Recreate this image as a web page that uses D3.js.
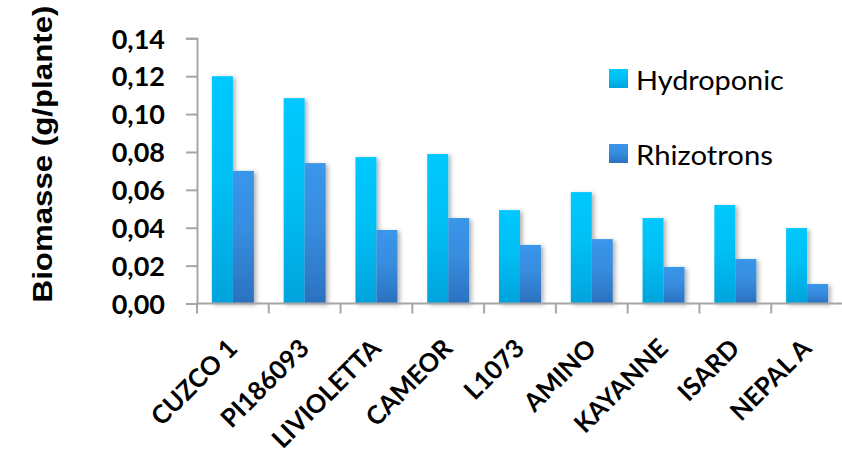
<!DOCTYPE html>
<html>
<head>
<meta charset="utf-8">
<script src="https://cdn.jsdelivr.net/npm/d3@7"></script>
<style>
  html, body { margin: 0; padding: 0; background: #fff; }
  svg { display: block; }
</style>
</head>
<body>
<svg id="chart" width="842" height="454"></svg>
<script>
const categories = ["CUZCO 1", "PI186093", "LIVIOLETTA", "CAMEOR", "L1073", "AMINO", "KAYANNE", "ISARD", "NEPAL A"];
const seriesNames = ["Hydroponic", "Rhizotrons"];
const hydroponic = [0.120, 0.1084, 0.0773, 0.0789, 0.0493, 0.0588, 0.0451, 0.0520, 0.0398];
const rhizotrons = [0.070, 0.0741, 0.0388, 0.0451, 0.0309, 0.0340, 0.0193, 0.0235, 0.0103];
const yTicks = [0, 0.02, 0.04, 0.06, 0.08, 0.10, 0.12, 0.14];
const yTitle = "Biomasse (g/plante)";

const svg = d3.select("#chart");
const defs = svg.append("defs");

const gradH = defs.append("linearGradient").attr("id", "gH").attr("x1", 0).attr("y1", 0).attr("x2", 0).attr("y2", 1);
gradH.append("stop").attr("offset", "0%").attr("stop-color", "#00c8ff");
gradH.append("stop").attr("offset", "45%").attr("stop-color", "#00c0f4");
gradH.append("stop").attr("offset", "100%").attr("stop-color", "#00a3dc");
const gradR = defs.append("linearGradient").attr("id", "gR").attr("x1", 0).attr("y1", 0).attr("x2", 0).attr("y2", 1);
gradR.append("stop").attr("offset", "0%").attr("stop-color", "#3a96ea");
gradR.append("stop").attr("offset", "45%").attr("stop-color", "#378ddf");
gradR.append("stop").attr("offset", "100%").attr("stop-color", "#2b71c0");

const shadow = defs.append("filter").attr("id", "sh").attr("x", "-30%").attr("y", "-10%").attr("width", "170%").attr("height", "130%");
shadow.append("feDropShadow").attr("dx", 2.5).attr("dy", 1.5).attr("stdDeviation", 2.2)
  .attr("flood-color", "#000").attr("flood-opacity", 0.3);

const x0 = 197, x1 = 843, yTop = 38.3, yBot = 303.5;

const x = d3.scaleBand().domain(categories).range([x0, x1]).paddingInner(0.415).paddingOuter(0.2075);
const xs = d3.scaleBand().domain(seriesNames).range([0, x.bandwidth()]).padding(0);
const y = d3.scaleLinear().domain([0, 0.14]).range([yBot, yTop]);

const fillFor = { "Hydroponic": "url(#gH)", "Rhizotrons": "url(#gR)" };
const seriesData = { "Hydroponic": hydroponic, "Rhizotrons": rhizotrons };

// bars
const gBars = svg.append("g").attr("filter", "url(#sh)");
categories.forEach((c, i) => {
  seriesNames.forEach(s => {
    const v = seriesData[s][i];
    gBars.append("rect")
      .attr("x", x(c) + xs(s))
      .attr("y", y(v))
      .attr("width", xs.bandwidth())
      .attr("height", y(0) - y(v))
      .attr("fill", fillFor[s]);
  });
});

// y axis
const yAxis = d3.axisLeft(y).tickValues(yTicks).tickSize(11).tickPadding(21)
  .tickFormat(d => d3.format(".2f")(d).replace(".", ","));
const gy = svg.append("g").attr("transform", `translate(${x0},0)`).call(yAxis);
gy.select(".domain").attr("stroke", "#a6a6a6").attr("stroke-width", 2);
gy.selectAll(".tick line").attr("stroke", "#a6a6a6").attr("stroke-width", 2);
gy.selectAll(".tick text")
  .attr("font-family", "Lato, 'Open Sans', sans-serif")
  .attr("font-weight", "bold").attr("font-size", "27px").attr("fill", "#000")
  .attr("dy", "0.36em");

// x axis (ticks between categories)
const step = x.step();
const boundaries = d3.range(categories.length + 1).map(i => x0 + i * step);
const gx = svg.append("g");
gx.append("line").attr("x1", x0 - 1).attr("x2", 842).attr("y1", yBot).attr("y2", yBot)
  .attr("stroke", "#a6a6a6").attr("stroke-width", 2);
gx.selectAll("line.tk").data(boundaries).enter().append("line").attr("class", "tk")
  .attr("x1", d => d).attr("x2", d => d).attr("y1", yBot).attr("y2", yBot + 10)
  .attr("stroke", "#a6a6a6").attr("stroke-width", 2);

// category labels
svg.append("g").selectAll("text").data(categories).enter().append("text")
  .attr("transform", d => `translate(${x(d) + x.bandwidth() / 2 + 6},350) rotate(-45)`)
  .attr("text-anchor", "end")
  .attr("font-family", "Lato, 'Open Sans', sans-serif")
  .attr("font-weight", "bold").attr("font-size", "25.5px").attr("fill", "#000")
  .text(d => d);

// y title
const tt = svg.append("text")
  .attr("font-family", "'Liberation Sans', Arial, sans-serif")
  .attr("font-weight", "bold").attr("font-size", "28px").attr("fill", "#000")
  .attr("text-anchor", "middle")
  .text(yTitle);
const tl = tt.node().getComputedTextLength();
tt.attr("transform", `translate(52,154) rotate(-90) scale(${297 / tl},1)`);

// legend
const legY = [69, 144];
const legW = [148, 137];
seriesNames.forEach((s, i) => {
  svg.append("rect").attr("x", 609).attr("y", legY[i]).attr("width", 19).attr("height", 19)
    .attr("fill", fillFor[s]);
  const t = svg.append("text")
    .attr("font-family", "Lato, 'Open Sans', sans-serif")
    .attr("font-size", "26px").attr("fill", "#000")
    .text(s);
  const w = t.node().getComputedTextLength();
  t.attr("transform", `translate(636,${legY[i] + 21}) scale(${legW[i] / w},1)`);
});
</script>
</body>
</html>
